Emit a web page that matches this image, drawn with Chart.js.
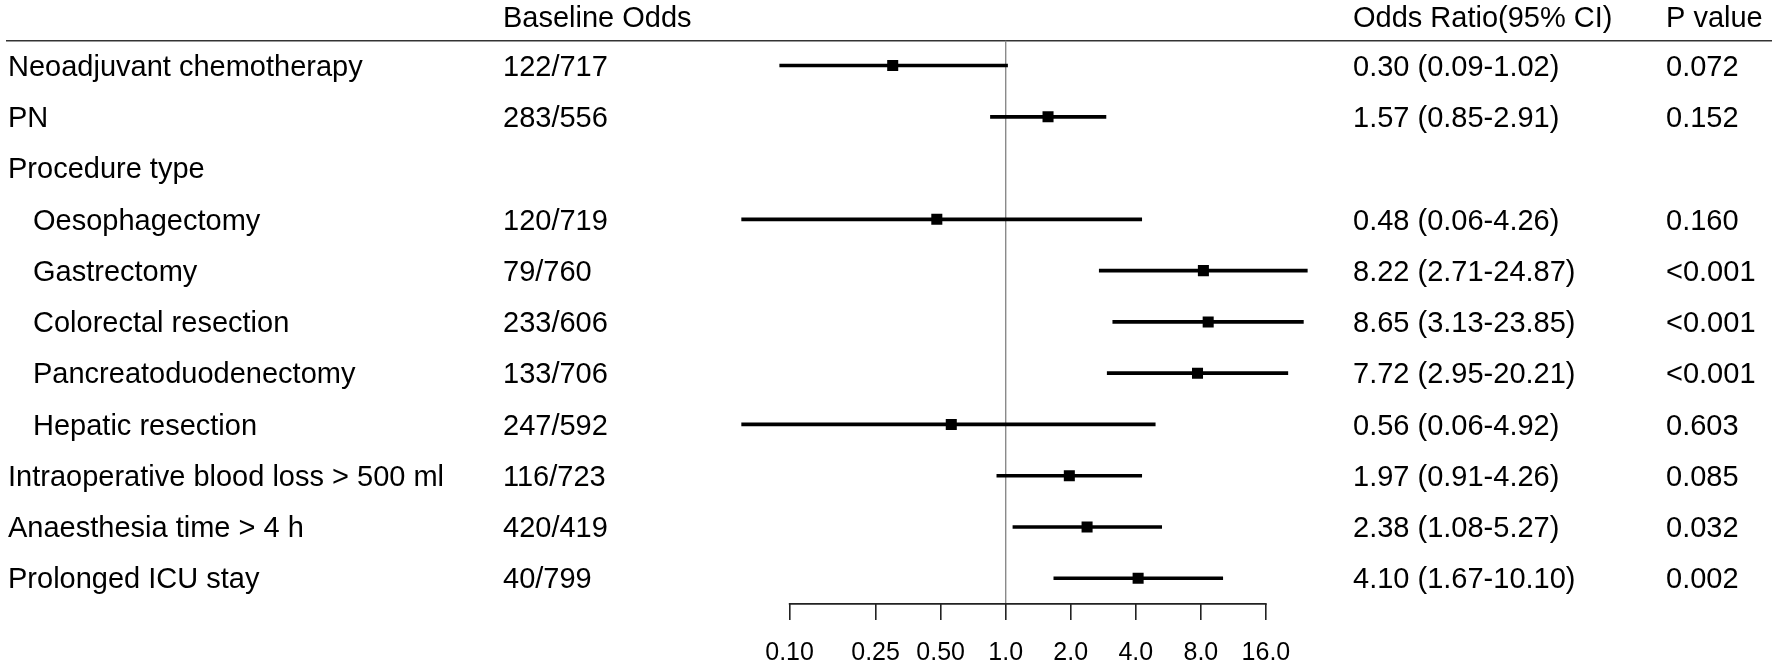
<!DOCTYPE html>
<html>
<head>
<meta charset="utf-8">
<script src="https://cdn.jsdelivr.net/npm/chart.js@4/dist/chart.umd.min.js"></script>
<style>
  html, body { margin: 0; padding: 0; background: #ffffff; }
  #wrap { width: 1772px; height: 664px; position: relative; }
</style>
</head>
<body>
<div id="wrap"><canvas id="c"></canvas></div>
<script>
// ---- data ----
const rowLabels = [
  'Neoadjuvant chemotherapy',
  'PN',
  'Procedure type',
  'Oesophagectomy',
  'Gastrectomy',
  'Colorectal resection',
  'Pancreatoduodenectomy',
  'Hepatic resection',
  'Intraoperative blood loss > 500 ml',
  'Anaesthesia time > 4 h',
  'Prolonged ICU stay'
];
const indented = [false, false, false, true, true, true, true, true, false, false, false];
const baselineOdds = ['122/717', '283/556', '', '120/719', '79/760', '233/606', '133/706', '247/592', '116/723', '420/419', '40/799'];
const oddsRatio = [0.30, 1.57, null, 0.48, 8.22, 8.65, 7.72, 0.56, 1.97, 2.38, 4.10];
const ciLower   = [0.09, 0.85, null, 0.06, 2.71, 3.13, 2.95, 0.06, 0.91, 1.08, 1.67];
const ciUpper   = [1.02, 2.91, null, 4.26, 24.87, 23.85, 20.21, 4.92, 4.26, 5.27, 10.10];
const pValues   = ['0.072', '0.152', '', '0.160', '<0.001', '<0.001', '<0.001', '0.603', '0.085', '0.032', '0.002'];
const tickValues = [0.10, 0.25, 0.50, 1.0, 2.0, 4.0, 8.0, 16.0];
const tickLabels = ['0.10', '0.25', '0.50', '1.0', '2.0', '4.0', '8.0', '16.0'];
const headers = { baseline: 'Baseline Odds', or: 'Odds Ratio(95% CI)', p: 'P value' };

const FONT = "'Liberation Sans', Arial, Helvetica, sans-serif";
const orText = oddsRatio.map((v, i) => v == null ? '' :
  v.toFixed(2) + ' (' + ciLower[i].toFixed(2) + '-' + ciUpper[i].toFixed(2) + ')');

const ciData = ciLower.map((lo, i) => lo == null ? null : [lo, ciUpper[i]]);

const COL = { label: 8, indent: 33, baseline: 503, or: 1353, p: 1666 };

const forestPlugin = {
  id: 'forest',
  beforeDatasetsDraw(chart) {
    const ctx = chart.ctx, x = chart.scales.x, area = chart.chartArea;
    ctx.save();
    // top rule
    ctx.strokeStyle = '#333';
    ctx.lineWidth = 1.5;
    ctx.beginPath();
    ctx.moveTo(6, 40.7);
    ctx.lineTo(1772, 40.7);
    ctx.stroke();
    // reference line at OR = 1
    const px1 = x.getPixelForValue(1);
    ctx.strokeStyle = '#8a8a8a';
    ctx.lineWidth = 1.4;
    ctx.beginPath();
    ctx.moveTo(px1, 40.7);
    ctx.lineTo(px1, area.bottom);
    ctx.stroke();
    // axis line from first to last tick
    ctx.strokeStyle = '#222';
    ctx.lineWidth = 1.6;
    ctx.beginPath();
    ctx.moveTo(x.getPixelForValue(tickValues[0]) - 0.8, area.bottom);
    ctx.lineTo(x.getPixelForValue(tickValues[tickValues.length - 1]) + 0.8, area.bottom);
    ctx.stroke();
    ctx.restore();
  },
  afterDraw(chart) {
    const ctx = chart.ctx, y = chart.scales.y;
    ctx.save();
    ctx.fillStyle = '#000';
    ctx.font = '29px ' + FONT;
    ctx.textBaseline = 'alphabetic';
    ctx.textAlign = 'left';
    // headers
    ctx.fillText(headers.baseline, COL.baseline, 26.5);
    ctx.fillText(headers.or, COL.or, 26.5);
    ctx.fillText(headers.p, COL.p, 26.5);
    rowLabels.forEach((lab, i) => {
      const yy = y.getPixelForValue(i) + 10.2;
      ctx.fillText(lab, indented[i] ? COL.indent : COL.label, yy);
      if (baselineOdds[i]) ctx.fillText(baselineOdds[i], COL.baseline, yy);
      if (orText[i]) ctx.fillText(orText[i], COL.or, yy);
      if (pValues[i]) ctx.fillText(pValues[i], COL.p, yy);
    });
    ctx.restore();
  }
};

new Chart(document.getElementById('c'), {
  data: {
    labels: rowLabels,
    datasets: [
      {
        type: 'bar',
        data: ciData,
        backgroundColor: '#000',
        borderWidth: 0,
        barThickness: 3,
        order: 2
      },
      {
        type: 'line',
        data: oddsRatio,
        showLine: false,
        pointStyle: 'rect',
        pointRadius: 7.8,
        pointHoverRadius: 7.8,
        pointBackgroundColor: '#000',
        pointBorderColor: '#000',
        pointBorderWidth: 0,
        order: 1
      }
    ]
  },
  options: {
    indexAxis: 'y',
    responsive: true,
    maintainAspectRatio: false,
    animation: false,
    devicePixelRatio: 1,
    events: [],
    layout: { padding: { left: 724.55, right: 447.1, top: 39.9, bottom: 0 } },
    plugins: { legend: { display: false }, tooltip: { enabled: false } },
    scales: {
      y: {
        type: 'category',
        offset: true,
        display: false
      },
      x: {
        type: 'logarithmic',
        position: 'bottom',
        min: 0.05,
        max: 30,
        border: { display: false },
        grid: {
          drawOnChartArea: false,
          drawTicks: true,
          tickLength: 16,
          color: '#222',
          lineWidth: 1.6
        },
        afterBuildTicks(scale) {
          scale.ticks = tickValues.map(v => ({ value: v }));
        },
        afterFit(scale) { scale.height = 60.1; },
        ticks: {
          autoSkip: false,
          maxRotation: 0,
          minRotation: 0,
          padding: 18,
          color: '#000',
          font: { family: FONT, size: 25 },
          callback(value) {
            const idx = tickValues.findIndex(t => Math.abs(t - value) < 1e-9);
            return idx >= 0 ? tickLabels[idx] : '';
          }
        }
      }
    }
  },
  plugins: [forestPlugin]
});
</script>
</body>
</html>
